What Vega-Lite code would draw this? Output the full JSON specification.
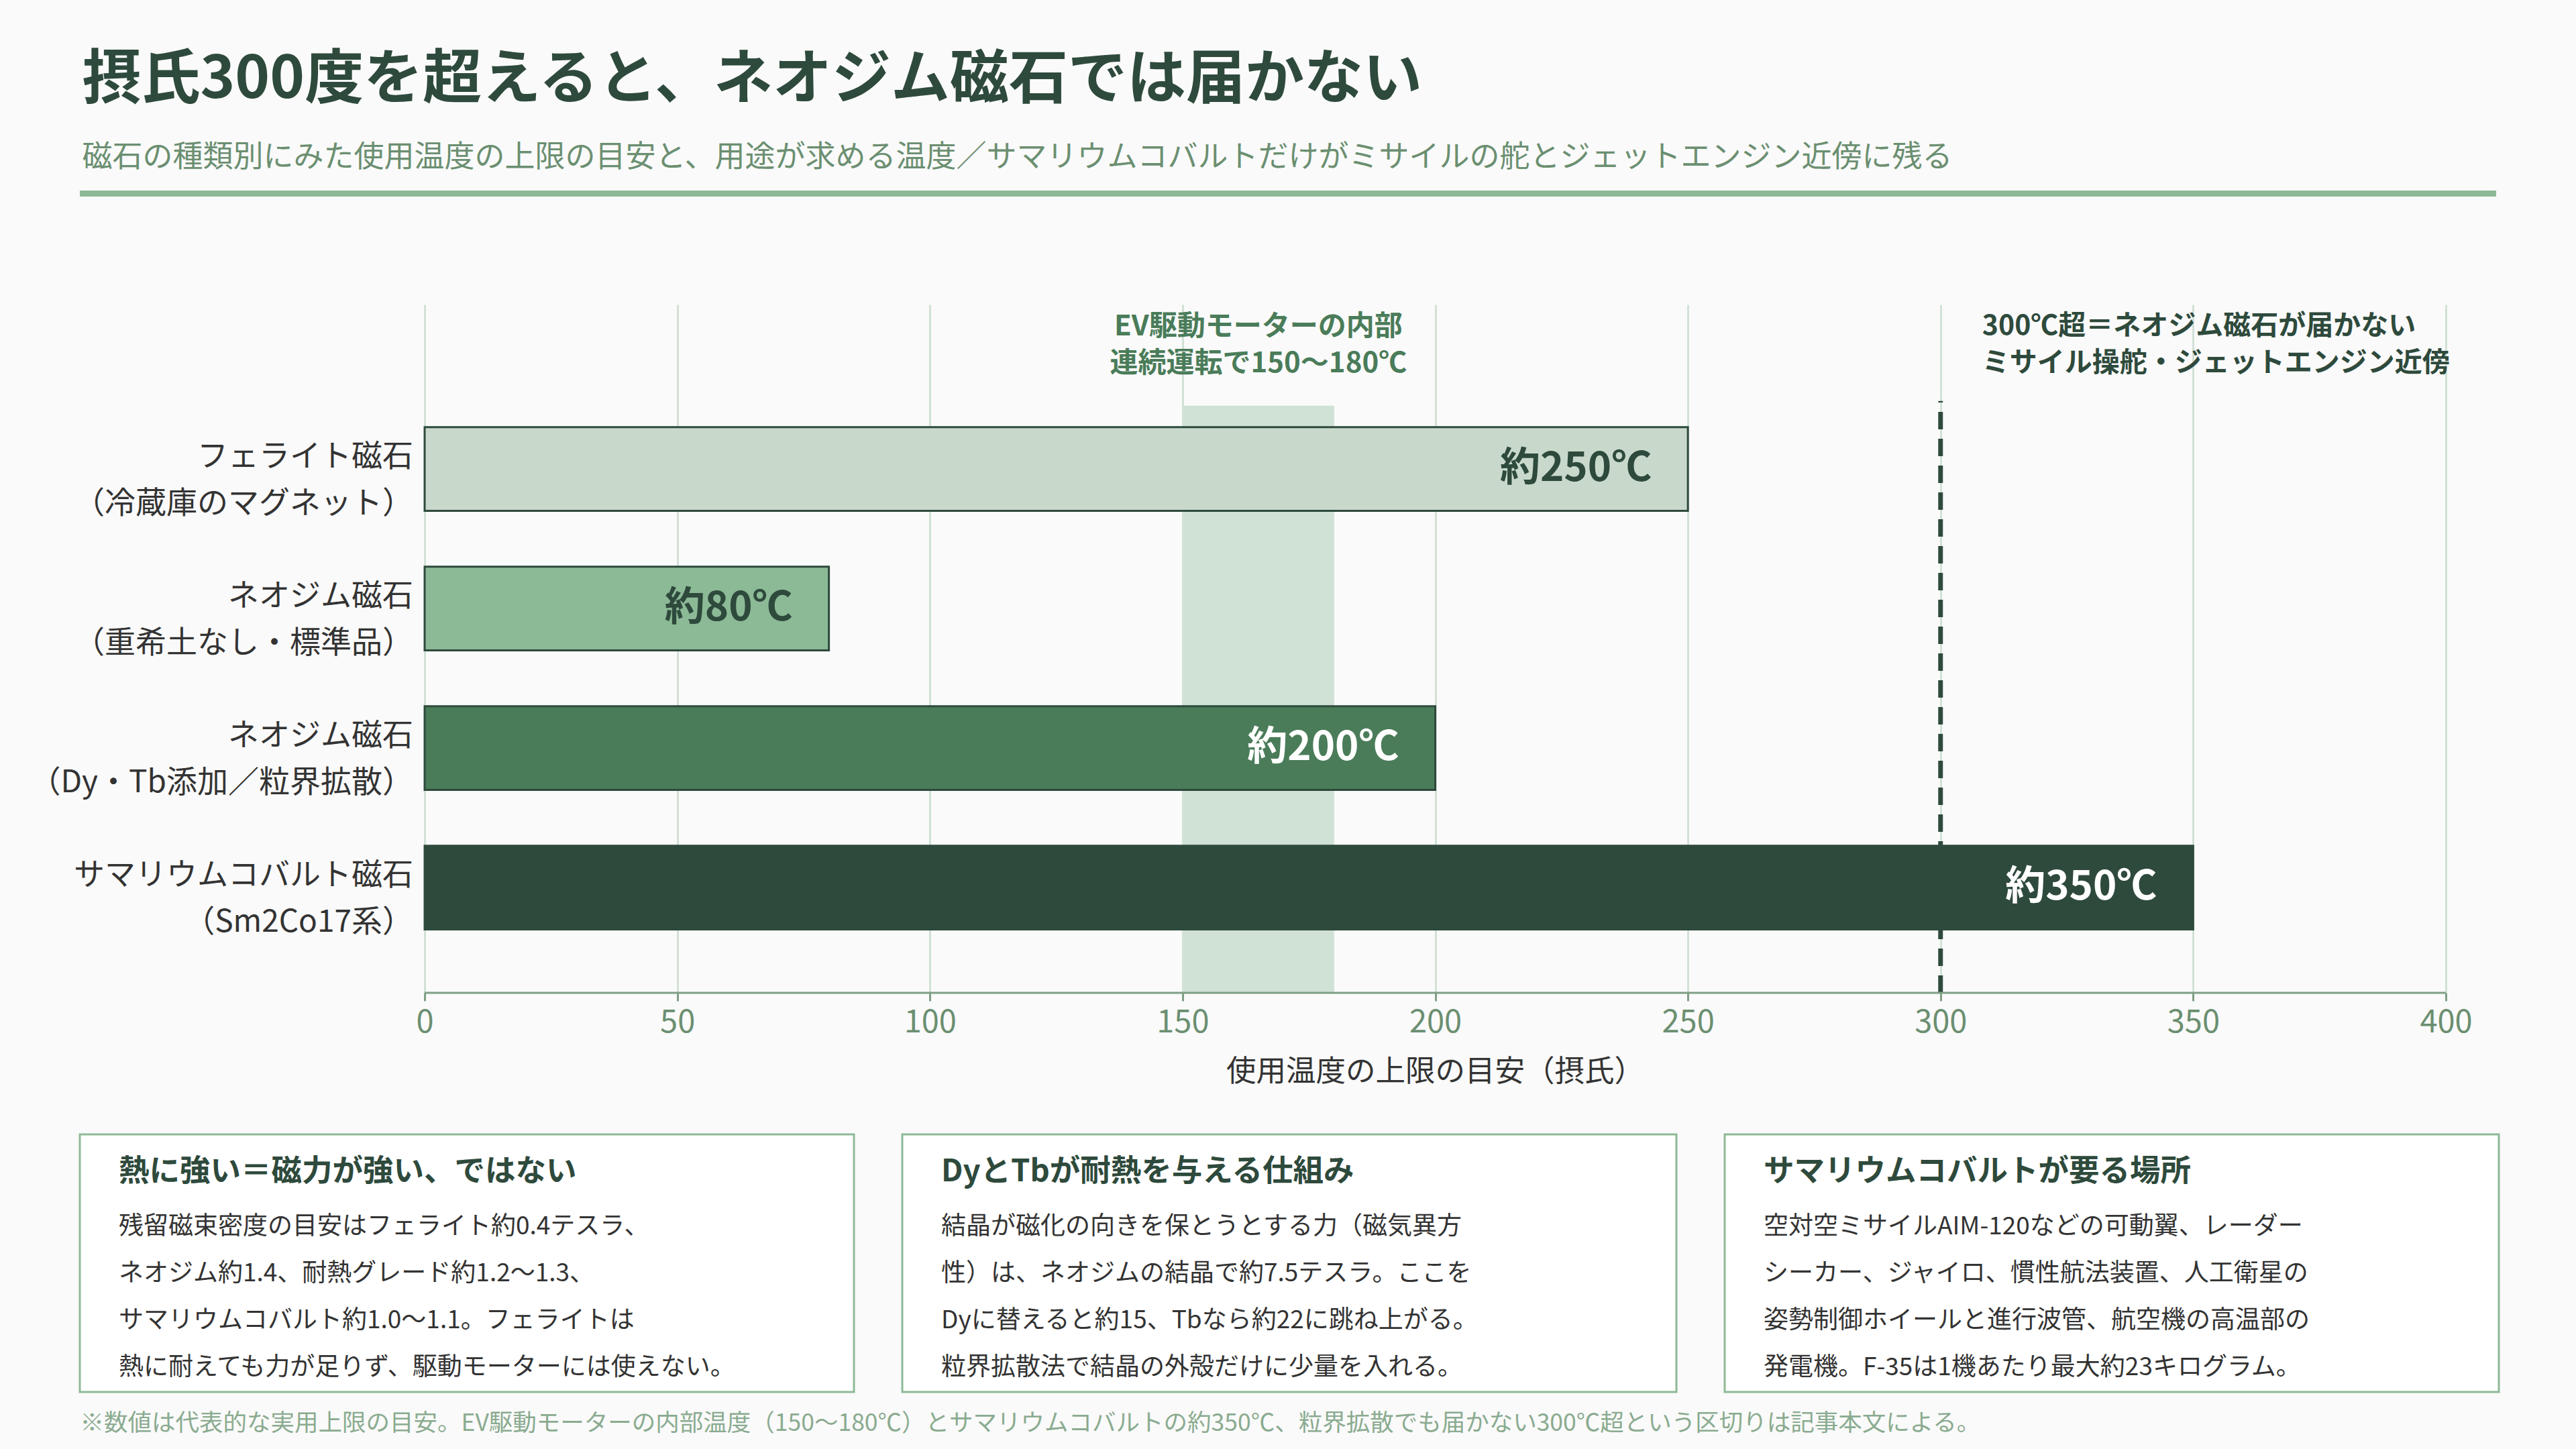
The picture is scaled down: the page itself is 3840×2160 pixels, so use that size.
{
  "$schema": "https://vega.github.io/schema/vega-lite/v6.json",
  "background": "#fafafa",
  "padding": {"left": 44, "top": 76, "right": 116, "bottom": 20},
  "title": {
    "text": "摂氏300度を超えると、ネオジム磁石では届かない",
    "subtitle": "磁石の種類別にみた使用温度の上限の目安と、用途が求める温度／サマリウムコバルトだけがミサイルの舵とジェットエンジン近傍に残る",
    "anchor": "start",
    "frame": "bounds",
    "dx": 78,
    "offset": 26,
    "fontSize": 88,
    "fontWeight": "bold",
    "color": "#2e4a3c",
    "subtitleFontSize": 45,
    "subtitleColor": "#6b8f71",
    "subtitlePadding": 49
  },
  "datasets": {
    "magnets": [
      {"id": "ferrite", "label": "フェライト磁石|（冷蔵庫のマグネット）", "temp": 250, "text": "約250℃"},
      {"id": "neo", "label": "ネオジム磁石|（重希土なし・標準品）", "temp": 80, "text": "約80℃"},
      {"id": "neo_dy", "label": "ネオジム磁石|（Dy・Tb添加／粒界拡散）", "temp": 200, "text": "約200℃"},
      {"id": "smco", "label": "サマリウムコバルト磁石|（Sm2Co17系）", "temp": 350, "text": "約350℃"}
    ],
    "zone": [{"from": 150, "to": 180}],
    "limit": [{"at": 300}],
    "axisTitle": [{"at": 200, "text": "使用温度の上限の目安（摂氏）"}],
    "notes": [
      {"group": "ev", "at": 165, "line": 1, "text": "EV駆動モーターの内部"},
      {"group": "ev", "at": 165, "line": 2, "text": "連続運転で150〜180℃"},
      {"group": "limit", "at": 300, "line": 1, "text": "300℃超＝ネオジム磁石が届かない"},
      {"group": "limit", "at": 300, "line": 2, "text": "ミサイル操舵・ジェットエンジン近傍"}
    ],
    "cards": [
      {"card": 1, "line": 0, "text": "熱に強い＝磁力が強い、ではない"},
      {"card": 1, "line": 1, "text": "残留磁束密度の目安はフェライト約0.4テスラ、"},
      {"card": 1, "line": 2, "text": "ネオジム約1.4、耐熱グレード約1.2〜1.3、"},
      {"card": 1, "line": 3, "text": "サマリウムコバルト約1.0〜1.1。フェライトは"},
      {"card": 1, "line": 4, "text": "熱に耐えても力が足りず、駆動モーターには使えない。"},
      {"card": 2, "line": 0, "text": "DyとTbが耐熱を与える仕組み"},
      {"card": 2, "line": 1, "text": "結晶が磁化の向きを保とうとする力（磁気異方"},
      {"card": 2, "line": 2, "text": "性）は、ネオジムの結晶で約7.5テスラ。ここを"},
      {"card": 2, "line": 3, "text": "Dyに替えると約15、Tbなら約22に跳ね上がる。"},
      {"card": 2, "line": 4, "text": "粒界拡散法で結晶の外殻だけに少量を入れる。"},
      {"card": 3, "line": 0, "text": "サマリウムコバルトが要る場所"},
      {"card": 3, "line": 1, "text": "空対空ミサイルAIM-120などの可動翼、レーダー"},
      {"card": 3, "line": 2, "text": "シーカー、ジャイロ、慣性航法装置、人工衛星の"},
      {"card": 3, "line": 3, "text": "姿勢制御ホイールと進行波管、航空機の高温部の"},
      {"card": 3, "line": 4, "text": "発電機。F-35は1機あたり最大約23キログラム。"}
    ]
  },
  "spacing": 68,
  "vconcat": [
    {
      "width": 3602,
      "height": 9,
      "data": {"values": [{"k": "rule"}]},
      "mark": {"type": "rect", "color": "#8db996"},
      "encoding": {
        "y": {"field": "k", "type": "nominal", "scale": {"paddingInner": 0, "paddingOuter": 0}, "axis": null}
      }
    },
    {
      "width": 3527,
      "height": 1026,
      "title": {"text": " ", "fontSize": 10, "offset": 83},
      "layer": [
        {
          "data": {"name": "zone"},
          "mark": {"type": "rect", "color": "#d0e2d5"},
          "encoding": {
            "x": {
              "field": "from",
              "type": "quantitative",
              "title": null,
              "scale": {"domain": [-68.24, 400], "nice": false, "zero": false},
              "axis": {
                "values": [0, 50, 100, 150, 200, 250, 300, 350, 400],
                "grid": true,
                "gridColor": "#cadccf",
                "gridWidth": 2.5,
                "domain": false,
                "tickColor": "#7f9f85",
                "tickWidth": 3,
                "tickSize": 12,
                "labelFontSize": 47,
                "labelColor": "#6b8f71",
                "labelPadding": 9,
                "labelFlush": false
              }
            },
            "x2": {"field": "to"},
            "y": {"datum": 0, "type": "quantitative", "scale": {"domain": [0, 1], "nice": false}, "axis": null},
            "y2": {"datum": 0.853}
          }
        },
        {
          "data": {"name": "limit"},
          "mark": {"type": "rule", "color": "#2e4a3c", "strokeWidth": 7, "strokeDash": [26, 14]},
          "encoding": {
            "x": {"field": "at", "type": "quantitative", "title": null},
            "y": {"datum": 0, "type": "quantitative", "scale": {"domain": [0, 1], "nice": false}, "axis": null},
            "y2": {"datum": 0.86}
          }
        },
        {
          "data": {"name": "magnets"},
          "encoding": {
            "y": {
              "field": "label",
              "type": "nominal",
              "sort": null,
              "scale": {"paddingInner": 0.4, "paddingOuter": 0.667, "align": 0.659},
              "axis": null
            }
          },
          "layer": [
            {
              "mark": {"type": "bar", "stroke": "#2e4a3c", "strokeWidth": 3},
              "encoding": {
                "x": {"field": "temp", "type": "quantitative", "title": null},
                "color": {
                  "field": "id",
                  "type": "nominal",
                  "scale": {
                    "domain": ["ferrite", "neo", "neo_dy", "smco"],
                    "range": ["#c8d9cc", "#8cb996", "#4a7c59", "#2e4a3c"]
                  },
                  "legend": null
                }
              }
            },
            {
              "mark": {"type": "text", "align": "right", "baseline": "middle", "dx": -54, "fontSize": 60, "fontWeight": "bold"},
              "encoding": {
                "x": {"field": "temp", "type": "quantitative", "title": null},
                "text": {"field": "text"},
                "color": {
                  "condition": {"test": "datum.temp == 250 || datum.temp == 80", "value": "#2e4a3c"},
                  "value": "#ffffff"
                }
              }
            },
            {
              "mark": {"type": "text", "align": "right", "baseline": "middle", "dx": -17, "dy": -18, "fontSize": 46, "color": "#333333", "lineBreak": "|", "lineHeight": 70},
              "encoding": {
                "x": {"datum": 0, "type": "quantitative", "title": null},
                "text": {"field": "label"}
              }
            }
          ]
        },
        {
          "data": {"name": "notes"},
          "transform": [{"filter": "datum.group == 'ev'"}],
          "mark": {"type": "text", "align": "center", "baseline": "middle", "fontSize": 42, "fontWeight": "bold", "color": "#4a7c59"},
          "encoding": {
            "x": {"field": "at", "type": "quantitative", "title": null},
            "y": {"field": "line", "type": "quantitative", "scale": {"domain": [0.4, 19.05], "reverse": true, "nice": false, "zero": false}, "axis": null},
            "text": {"field": "text"}
          }
        },
        {
          "data": {"name": "notes"},
          "transform": [{"filter": "datum.group == 'limit'"}],
          "mark": {"type": "text", "align": "left", "baseline": "middle", "dx": 62, "fontSize": 41, "fontWeight": "bold", "color": "#2e4a3c"},
          "encoding": {
            "x": {"field": "at", "type": "quantitative", "title": null},
            "y": {"field": "line", "type": "quantitative", "scale": {"domain": [0.4, 19.05], "reverse": true, "nice": false, "zero": false}, "axis": null},
            "text": {"field": "text"}
          }
        },
        {
          "data": {"values": [{"from": 0, "to": 400}]},
          "mark": {"type": "rule", "color": "#7f9f85", "strokeWidth": 3},
          "encoding": {
            "x": {"field": "from", "type": "quantitative", "title": null},
            "x2": {"field": "to"},
            "y": {"datum": 0, "type": "quantitative", "scale": {"domain": [0, 1], "nice": false}, "axis": null}
          }
        },
        {
          "data": {"name": "axisTitle"},
          "mark": {"type": "text", "align": "center", "baseline": "middle", "fontSize": 44.5, "color": "#333333"},
          "encoding": {
            "x": {"field": "at", "type": "quantitative", "title": null},
            "y": {"datum": -0.116, "type": "quantitative", "scale": {"domain": [0, 1], "nice": false}, "axis": null},
            "text": {"field": "text"}
          }
        }
      ],
      "resolve": {"scale": {"y": "independent"}}
    },
    {
      "data": {"name": "cards"},
      "facet": {"column": {"field": "card", "type": "ordinal", "header": null}},
      "spacing": 68,
      "title": {
        "text": "※数値は代表的な実用上限の目安。EV駆動モーターの内部温度（150〜180℃）とサマリウムコバルトの約350℃、粒界拡散でも届かない300℃超という区切りは記事本文による。",
        "orient": "bottom",
        "anchor": "start",
        "frame": "bounds",
        "dx": 2,
        "offset": 28,
        "fontSize": 35.5,
        "fontWeight": "normal",
        "color": "#8aab90"
      },
      "spec": {
        "width": 1154,
        "height": 384,
        "view": {"fill": "#ffffff", "stroke": "#8db996", "strokeWidth": 3},
        "encoding": {
          "x": {"datum": 0, "type": "quantitative", "scale": {"domain": [0, 1], "nice": false}, "axis": null},
          "y": {
            "field": "line",
            "type": "ordinal",
            "scale": {"type": "point", "domain": [0, 1, 2, 3, 4], "padding": 0.743, "align": 0.654},
            "axis": null
          },
          "text": {"field": "text"}
        },
        "layer": [
          {
            "transform": [{"filter": "datum.line == 0"}],
            "mark": {"type": "text", "align": "left", "baseline": "middle", "dx": 58, "dy": -12, "fontSize": 45.5, "fontWeight": "bold", "color": "#2e4a3c"}
          },
          {
            "transform": [{"filter": "datum.line > 0"}],
            "mark": {"type": "text", "align": "left", "baseline": "middle", "dx": 58, "fontSize": 37, "color": "#333333"}
          }
        ]
      }
    }
  ],
  "config": {
    "font": "Noto Sans CJK JP",
    "view": {"stroke": null}
  }
}
